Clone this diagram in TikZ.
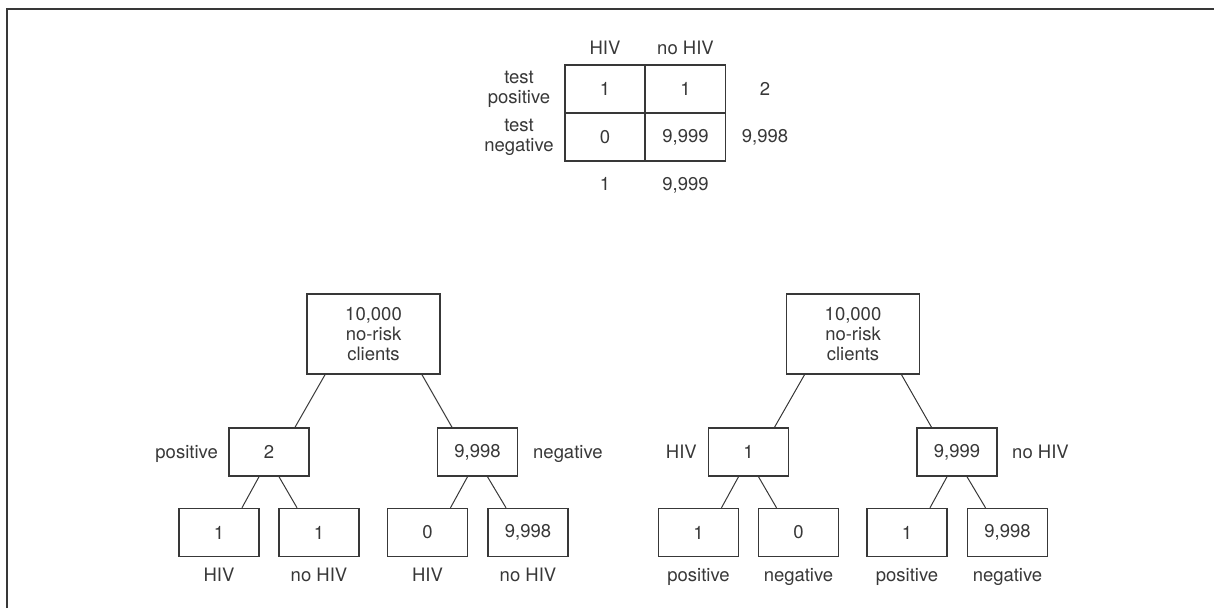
\documentclass[tikz,border=0pt]{standalone}
\usepackage{fontspec}
\setmainfont{TeX Gyre Heros}
\usepackage{tikz}

\definecolor{ink}{gray}{0.22}

\begin{document}
\begin{tikzpicture}[x=1pt, y=-1pt,
        every node/.style={text=ink, font=\fontsize{18.5}{20}\selectfont},
        box/.style={draw=ink, line width=1.5pt, minimum width=80pt, minimum height=48pt, inner sep=0pt},
        root/.style={box, minimum width=133pt, minimum height=80pt, align=center},
        lbl/.style={anchor=base, inner sep=0pt},
        edge/.style={draw=ink, line width=1pt}]
        \useasboundingbox (0,0) rectangle (1214,608);
        \draw[ink, line width=1.6pt] (7,608) -- (7,9) -- (1214,9);

        \node[box] (tp) at (605, 89) {1};
        \node[box] (fp) at (685.5, 89) {1};
        \node[box] (fn) at (605, 137) {0};
        \node[box] (tn) at (685.5, 137) {9,999};
        \node[lbl] (hcol) at (605, 54) {HIV};
        \node[lbl] (ncol) at (685.5, 54) {no HIV};
        \node[align=center, inner sep=0pt] (prow) at (519, 89) {test\\positive};
        \node[align=center, inner sep=0pt] (nrow) at (519, 137) {test\\negative};
        \node[lbl] (psum) at (765, 95) {2};
        \node[lbl] (nsum) at (765, 142) {9,998};
        \node[lbl] (hsum) at (605, 190) {1};
        \node[lbl] (osum) at (685.5, 190) {9,999};

        \node[root] (ra) at (373.5, 334) {10,000\\no-risk\\clients};
        \node[box] (pos) at (269, 452) {2};
        \node[box] (neg) at (477.5, 452) {9,998};
        \node[box] (pa) at (219, 532.5) {1};
        \node[box] (pb) at (319, 532.5) {1};
        \node[box] (na) at (427.5, 532.5) {0};
        \node[box] (nb) at (528, 532.5) {9,998};
        \node[lbl, anchor=base east] (poslbl) at (218, 458) {positive};
        \node[lbl, anchor=base west] (neglbl) at (533, 458) {negative};
        \node[lbl] (palbl) at (219, 581) {HIV};
        \node[lbl] (pblbl) at (319, 581) {no HIV};
        \node[lbl] (nalbl) at (427.5, 581) {HIV};
        \node[lbl] (nblbl) at (528, 581) {no HIV};

        \node[root] (rb) at (853, 334) {10,000\\no-risk\\clients};
        \node[box] (hiv) at (748.5, 452) {1};
        \node[box] (nohiv) at (957, 452) {9,999};
        \node[box] (ha) at (698.5, 532.5) {1};
        \node[box] (hb) at (798.5, 532.5) {0};
        \node[box] (oa) at (907, 532.5) {1};
        \node[box] (ob) at (1007.5, 532.5) {9,998};
        \node[lbl, anchor=base east] (hivlbl) at (697, 458) {HIV};
        \node[lbl, anchor=base west] (nohivlbl) at (1012, 458) {no HIV};
        \node[lbl] (halbl) at (698.5, 581) {positive};
        \node[lbl] (hblbl) at (798.5, 581) {negative};
        \node[lbl] (oalbl) at (907, 581) {positive};
        \node[lbl] (oblbl) at (1007.5, 581) {negative};

        \draw[edge] ([xshift=-48.5pt]ra.south) -- ([xshift=26pt]pos.north);
        \draw[edge] ([xshift=48.5pt]ra.south) -- ([xshift=-25.5pt]neg.north);
        \draw[edge] ([xshift=-10pt]pos.south) -- ([xshift=23pt]pa.north);
        \draw[edge] ([xshift=10pt]pos.south) -- ([xshift=-22pt]pb.north);
        \draw[edge] ([xshift=-10pt]neg.south) -- ([xshift=23pt]na.north);
        \draw[edge] ([xshift=10pt]neg.south) -- ([xshift=-22pt]nb.north);

        \draw[edge] ([xshift=-48.5pt]rb.south) -- ([xshift=26pt]hiv.north);
        \draw[edge] ([xshift=48.5pt]rb.south) -- ([xshift=-25.5pt]nohiv.north);
        \draw[edge] ([xshift=-10pt]hiv.south) -- ([xshift=23pt]ha.north);
        \draw[edge] ([xshift=10pt]hiv.south) -- ([xshift=-22pt]hb.north);
        \draw[edge] ([xshift=-10pt]nohiv.south) -- ([xshift=23pt]oa.north);
        \draw[edge] ([xshift=10pt]nohiv.south) -- ([xshift=-22pt]ob.north);

    \end{tikzpicture}
\end{document}
